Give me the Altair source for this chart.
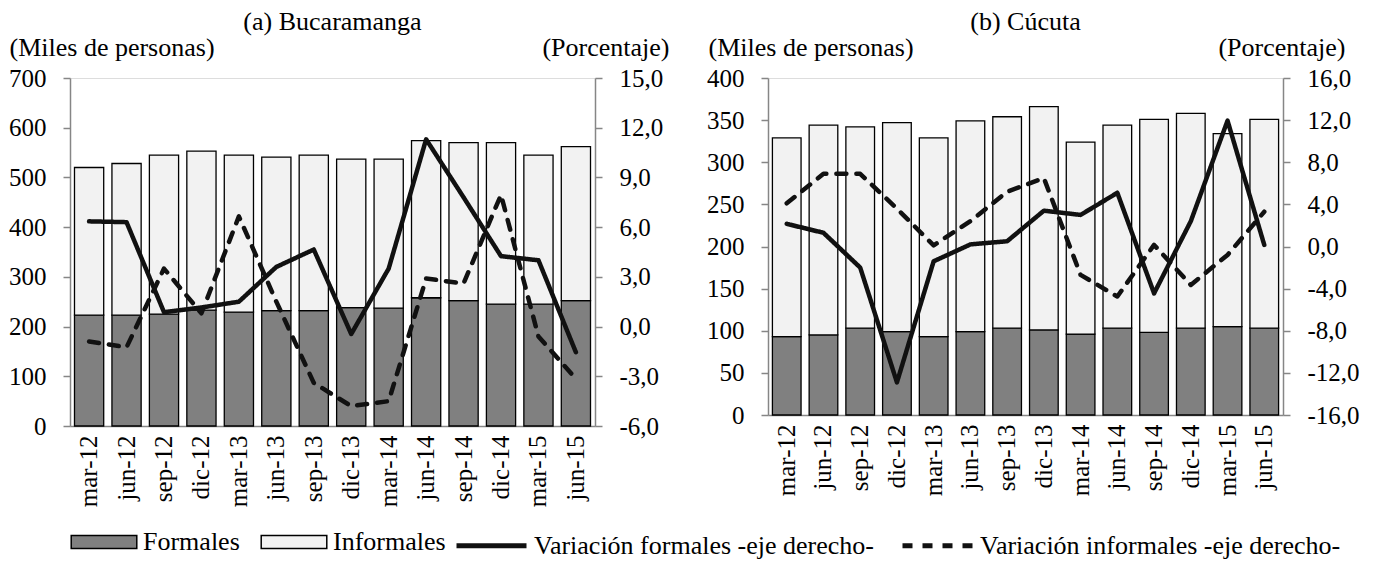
import altair as alt
import pandas as pd

FONT = "Liberation Serif"

cats = ["mar-12", "jun-12", "sep-12", "dic-12", "mar-13", "jun-13", "sep-13",
        "dic-13", "mar-14", "jun-14", "sep-14", "dic-14", "mar-15", "jun-15"]

series_bar = ["Formales", "Informales"]
series_line = ["Variación formales -eje derecho-", "Variación informales -eje derecho-"]

# (a) Bucaramanga (miles de personas / porcentaje)
buc_formales = [223, 223, 225, 233, 229, 232, 232, 238, 237, 258, 252, 245, 245, 252]
buc_informales = [297, 305, 320, 320, 316, 309, 313, 299, 300, 316, 318, 325, 300, 310]
buc_var_formales = [6.35, 6.3, 0.87, 1.15, 1.5, 3.6, 4.65, -0.45, 3.5, 11.3, 7.8, 4.25, 4.0, -1.55]
buc_var_informales = [-0.9, -1.25, 3.5, 0.8, 6.65, 1.5, -3.4, -4.8, -4.5, 2.9, 2.6, 7.95, -0.6, -3.15]

# (b) Cúcuta
cuc_formales = [93, 95, 103, 99, 93, 99, 103, 101, 96, 103, 98, 103, 105, 103]
cuc_informales = [236, 249, 239, 248, 236, 250, 251, 265, 228, 241, 253, 255, 229, 248]
cuc_var_formales = [2.15, 1.3, -2.0, -12.9, -1.4, 0.2, 0.5, 3.4, 3.0, 5.1, -4.45, 2.4, 11.95, 0.15]
cuc_var_informales = [4.1, 6.9, 6.9, 3.6, 0.1, 2.4, 5.2, 6.5, -2.7, -4.75, 0.15, -3.65, -0.8, 3.3]

GRAY = "#868686"
LABEL_EXPR = "(datum.value < 0 ? '-' : '') + replace(format(abs(datum.value), '.1f'), '.', ',')"
TICK_FS = 25
TITLE_FS = 26
LEGEND_FS = 26


def panel(title, formales, informales, var_f, var_i, lmax, lstep, rmin, rmax, rstep,
          w, h, ltitle_x, rtitle_x):
    bars_df = pd.DataFrame({
        "cat": cats * 2,
        "serie": [series_bar[0]] * len(cats) + [series_bar[1]] * len(cats),
        "orden": [0] * len(cats) + [1] * len(cats),
        "valor": formales + informales,
    })
    lines_df = pd.DataFrame({
        "cat": cats * 2,
        "serie": [series_line[0]] * len(cats) + [series_line[1]] * len(cats),
        "valor": var_f + var_i,
    })
    x = alt.X(
        "cat:N", sort=cats,
        scale=alt.Scale(paddingInner=0.22, paddingOuter=0.12),
        axis=alt.Axis(title=None, labelAngle=270, labelFont=FONT, labelFontSize=TICK_FS,
                      labelColor="black", labelPadding=9, ticks=False,
                      domainColor=GRAY, domainWidth=1.5, grid=False, labelOverlap=False),
    )
    bars = alt.Chart(bars_df).mark_bar(stroke="black", strokeWidth=1.3).encode(
        x=x,
        y=alt.Y(
            "valor:Q", stack="zero",
            scale=alt.Scale(domain=[0, lmax], nice=False),
            axis=alt.Axis(
                values=list(range(0, lmax + 1, lstep)), title="(Miles de personas)",
                titleAngle=0, titleAlign="left", titleBaseline="middle",
                titleX=ltitle_x, titleY=-31, titleFont=FONT, titleFontSize=TITLE_FS,
                titleFontWeight="normal", titleColor="black",
                labelFont=FONT, labelFontSize=TICK_FS, labelColor="black", labelPadding=17,
                tickColor=GRAY, tickSize=7, tickWidth=1.5, domainColor=GRAY,
                domainWidth=1.5, grid=False,
            ),
        ),
        fill=alt.Fill(
            "serie:N",
            scale=alt.Scale(domain=series_bar, range=["#808080", "#f2f2f2"]),
            legend=alt.Legend(
                title=None, orient="bottom", direction="horizontal", offset=0,
                symbolType="M-1,-0.2H1V0.2H-1Z", symbolSize=4300,
                symbolStrokeColor="black", symbolStrokeWidth=1.5,
                labelFont=FONT, labelFontSize=LEGEND_FS, labelColor="black",
                labelOffset=5, columnPadding=18, symbolOpacity=1, labelLimit=0,
            ),
        ),
        order=alt.Order("orden:Q"),
    )
    lines = alt.Chart(lines_df).mark_line(strokeWidth=4.5, color="#111111",
                                          strokeCap="round", strokeJoin="round").encode(
        x=x,
        y=alt.Y(
            "valor:Q",
            scale=alt.Scale(domain=[rmin, rmax], nice=False, zero=False),
            axis=alt.Axis(
                orient="right",
                values=list(range(rmin, rmax + 1, rstep)), labelExpr=LABEL_EXPR,
                title="(Porcentaje)", titleAngle=0, titleAlign="right",
                titleBaseline="middle", titleX=rtitle_x, titleY=-31, titleFont=FONT,
                titleFontSize=TITLE_FS, titleFontWeight="normal", titleColor="black",
                labelFont=FONT, labelFontSize=TICK_FS, labelColor="black", labelPadding=17,
                tickColor=GRAY, tickSize=7, tickWidth=1.5, domainColor=GRAY,
                domainWidth=1.5, grid=False,
            ),
        ),
        strokeDash=alt.StrokeDash(
            "serie:N",
            scale=alt.Scale(domain=series_line, range=[[1, 0], [10, 10]]),
            legend=alt.Legend(
                title=None, orient="bottom", direction="horizontal", offset=0,
                symbolType="stroke", symbolSize=4900, symbolStrokeWidth=5,
                symbolStrokeColor="#111111",
                labelFont=FONT, labelFontSize=LEGEND_FS, labelColor="black",
                labelOffset=5, columnPadding=18, labelLimit=0,
            ),
        ),
    )
    return alt.layer(bars, lines).resolve_scale(y="independent").properties(
        width=w, height=h,
        title=alt.TitleParams(title, font=FONT, fontSize=TITLE_FS, fontWeight="normal",
                              color="black", anchor="middle", offset=-1),
    )


left = panel("(a) Bucaramanga", buc_formales, buc_informales, buc_var_formales,
             buc_var_informales, 700, 100, -6, 15, 3, 525, 348, -61, 74)
right = panel("(b) Cúcuta", cuc_formales, cuc_informales, cuc_var_formales,
              cuc_var_informales, 400, 50, -16, 16, 4, 515, 337, -60, 62)

chart = alt.hconcat(left, right, spacing=36).resolve_scale(
    fill="shared", strokeDash="shared"
).properties(padding=0).configure_view(stroke=None).configure(background="white")

chart.save("out.html", embed_options={"renderer": "svg", "actions": False})
